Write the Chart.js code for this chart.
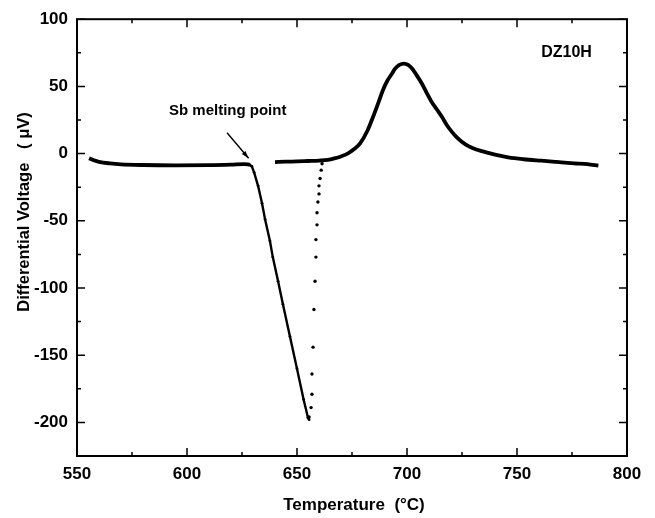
<!DOCTYPE html>
<html>
<head>
<meta charset="utf-8">
<script src="https://cdn.jsdelivr.net/npm/chart.js@4.4.1/dist/chart.umd.min.js"></script>
<style>
  html, body { margin: 0; padding: 0; background: #fff; }
  #wrap { width: 655px; height: 518px; }
</style>
</head>
<body>
<div id="wrap"><canvas id="dtaChart" width="655" height="518"></canvas></div>
<script>
// tick values
const xTicks = [550, 600, 650, 700, 750, 800];
const xMinor = [575, 625, 675, 725, 775];
const yTicks = [-200, -150, -100, -50, 0, 50, 100];
const yMinor = [-175, -125, -75, -25, 25, 75];

// baseline before the Sb melts
const baseTemp = [555.5, 557, 560, 565, 570, 580, 595, 610, 620, 626, 628.5];
const baseVolt = [-3.5, -4.6, -6.1, -7.3, -8.0, -8.5, -8.7, -8.6, -8.2, -7.8, -8.3];

// melting drop (dense dots)
const dropTemp = [628.5, 629.5, 630.5, 632.3, 634.1, 635.5, 637.7, 639, 641.4, 643.6, 646.8, 650, 653, 655, 655.5];
const dropVolt = [-8.3, -9.6, -14, -24, -37, -49, -65, -77, -95, -112, -136, -160, -183, -196.5, -198];

// fast recovery (sparse dots)
const recTemp = [655.5, 656.4, 656.8, 656.8, 657.3, 657.7, 658.2, 658.6, 658.6, 659.1, 659.1, 659.5, 660, 660, 660.5, 661, 661.4];
const recVolt = [-196, -189, -179, -164, -144, -116, -95, -77, -64, -53, -44, -36, -30, -24, -18.5, -12.3, -7.5];

// main peak
const peakTemp = [640, 645, 650, 655, 660, 664, 667, 670, 673, 676, 678.6, 682, 684.5, 686.8, 689, 691, 693, 694.5, 696.5, 698.6, 700.5, 702.5, 704.5, 706.8, 709, 711, 713.5, 716, 718, 720.5, 723, 726.4, 730, 734, 740, 746, 753, 761, 768, 776, 782, 787];
const peakVolt = [-6.3, -6.0, -5.8, -5.5, -5.2, -4.7, -3.6, -2.1, 0, 3.4, 7.4, 17, 27, 37, 47, 54, 59, 63, 66, 67, 66, 63, 58, 52, 45, 39, 33, 27, 21.5, 16, 11.5, 7, 4, 1.8, -0.8, -2.8, -4.2, -5.3, -6.2, -7.2, -7.8, -9];

const toXY = (xs, ys) => xs.map((x, i) => ({ x: x, y: ys[i] }));

const FONT = "'Liberation Sans', Arial, sans-serif";

const framePlugin = {
    id: 'frame',
    afterDraw(chart) {
        const ctx = chart.ctx;
        const a = chart.chartArea;
        const xs = chart.scales.x, ys = chart.scales.y;
        ctx.save();
        ctx.strokeStyle = '#000';
        ctx.lineWidth = 2;
        ctx.strokeRect(a.left, a.top, a.right - a.left, a.bottom - a.top);

        // inward ticks on all four sides
        ctx.lineWidth = 1.5;
        ctx.beginPath();
        const tickX = (v, len) => {
            const px = xs.getPixelForValue(v);
            ctx.moveTo(px, a.bottom); ctx.lineTo(px, a.bottom - len);
            ctx.moveTo(px, a.top); ctx.lineTo(px, a.top + len);
        };
        const tickY = (v, len) => {
            const py = ys.getPixelForValue(v);
            ctx.moveTo(a.left, py); ctx.lineTo(a.left + len, py);
            ctx.moveTo(a.right, py); ctx.lineTo(a.right - len, py);
        };
        xTicks.forEach(v => tickX(v, 8));
        xMinor.forEach(v => tickX(v, 4));
        yTicks.forEach(v => tickY(v, 8));
        yMinor.forEach(v => tickY(v, 4));
        ctx.stroke();

        // arrow to the melting point
        const x0 = xs.getPixelForValue(618.2), y0 = ys.getPixelForValue(15.5);
        const x1 = xs.getPixelForValue(628), y1 = ys.getPixelForValue(-3.5);
        const ang = Math.atan2(y1 - y0, x1 - x0);
        ctx.lineWidth = 1.4;
        ctx.beginPath();
        ctx.moveTo(x0, y0); ctx.lineTo(x1, y1);
        ctx.stroke();
        ctx.beginPath();
        ctx.moveTo(x1, y1);
        ctx.lineTo(x1 - 8 * Math.cos(ang - 0.3), y1 - 8 * Math.sin(ang - 0.3));
        ctx.lineTo(x1 - 8 * Math.cos(ang + 0.3), y1 - 8 * Math.sin(ang + 0.3));
        ctx.closePath();
        ctx.fillStyle = '#000';
        ctx.fill();

        // labels
        ctx.fillStyle = '#000';
        ctx.textAlign = 'center';
        ctx.textBaseline = 'middle';
        ctx.font = 'bold 15px ' + FONT;
        ctx.fillText('Sb melting point', xs.getPixelForValue(618.5), ys.getPixelForValue(32));
        ctx.font = 'bold 16px ' + FONT;
        ctx.fillText('DZ10H', xs.getPixelForValue(772.5), ys.getPixelForValue(75.5));

        // axis titles
        ctx.font = 'bold 17px ' + FONT;
        ctx.fillText('Temperature  (\u00B0C)', 354, 505);
        ctx.translate(24, 212);
        ctx.rotate(-Math.PI / 2);
        ctx.font = 'bold 16.5px ' + FONT;
        ctx.fillText('Differential Voltage   ( \u03BCV)', 0, 0);
        ctx.restore();
    }
};

new Chart(document.getElementById('dtaChart'), {
    type: 'line',
    data: {
        datasets: [
            {
                label: 'baseline',
                data: toXY(baseTemp, baseVolt),
                borderColor: '#000',
                borderWidth: 3.8,
                pointRadius: 0,
                cubicInterpolationMode: 'monotone'
            },
            {
                label: 'melting',
                data: toXY(dropTemp, dropVolt),
                borderColor: '#000',
                backgroundColor: '#000',
                borderWidth: 2.4,
                pointRadius: 1.4,
                pointBorderWidth: 0,
                tension: 0
            },
            {
                label: 'recovery',
                data: toXY(recTemp, recVolt),
                showLine: false,
                backgroundColor: '#000',
                borderColor: '#000',
                pointRadius: 1.7,
                pointBorderWidth: 0
            },
            {
                label: 'peak',
                data: toXY(peakTemp, peakVolt),
                borderColor: '#000',
                borderWidth: 3.8,
                pointRadius: 0,
                cubicInterpolationMode: 'monotone'
            }
        ]
    },
    options: {
        responsive: false,
        animation: false,
        devicePixelRatio: 1,
        layout: { padding: { top: 15, right: 28, left: 0, bottom: 0 } },
        plugins: {
            legend: { display: false },
            tooltip: { enabled: false }
        },
        scales: {
            x: {
                type: 'linear',
                min: 550,
                max: 800,
                grid: { display: false, drawTicks: false },
                border: { display: false },
                afterBuildTicks: s => { s.ticks = xTicks.map(v => ({ value: v })); },
                afterFit: s => { s.height = 62; },
                ticks: {
                    color: '#000',
                    padding: 8,
                    font: { family: FONT, size: 17, weight: 'bold' }
                }
            },
            y: {
                type: 'linear',
                min: -225,
                max: 100,
                grid: { display: false, drawTicks: false },
                border: { display: false },
                afterBuildTicks: s => { s.ticks = yTicks.map(v => ({ value: v })); },
                afterFit: s => { s.width = 77; },
                ticks: {
                    color: '#000',
                    padding: 9,
                    font: { family: FONT, size: 17, weight: 'bold' }
                }
            }
        }
    },
    plugins: [framePlugin]
});
</script>
</body>
</html>
